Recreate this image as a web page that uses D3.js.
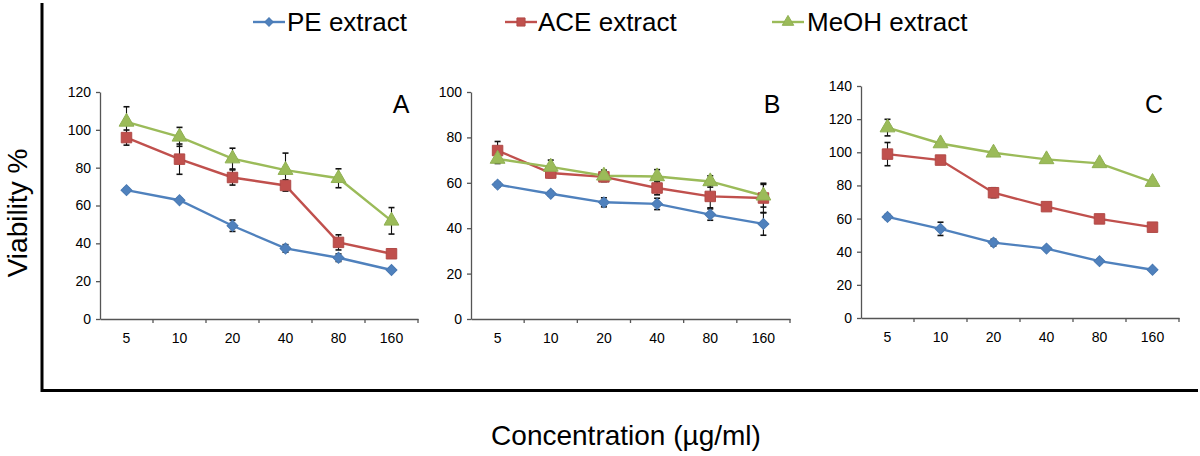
<!DOCTYPE html>
<html><head><meta charset="utf-8">
<script src="https://cdn.jsdelivr.net/npm/d3@7"></script>
<style>
html,body{margin:0;padding:0;background:#fff;}
svg{display:block;font-family:"Liberation Sans",Arial,sans-serif;}
</style></head>
<body><svg id="c" width="1200" height="456"></svg>
<script>
// ---- data ----
const concentrations = ["5","10","20","40","80","160"];
const seriesNames = ["PE extract","ACE extract","MeOH extract"];

const peA   = [68.1, 62.8, 49.3, 37.3, 32.4, 25.9];
const peAErr= [1, 1, 3, 2, 2, 1];
const aceA  = [95.9, 84.5, 74.8, 70.6, 40.5, 34.5];
const aceAErr=[4, 8, 4, 3, 4, 2];
const meohA = [104.2, 96.3, 84.8, 78.7, 74.4, 51.9];
const meohAErr=[8, 5, 5.5, 9, 5, 7];

const peB   = [59.2, 55.2, 51.4, 50.7, 46.0, 41.9];
const peBErr= [1, 1, 2, 2.5, 2.5, 5];
const aceB  = [74.2, 64.3, 62.6, 57.7, 54.0, 53.3];
const aceBErr=[4, 2, 2, 3, 5, 6.5];
const meohB = [70.5, 67.0, 63.1, 62.8, 60.6, 54.3];
const meohBErr=[2, 3, 2.5, 3, 2.5, 5];

const peC   = [61.0, 53.8, 45.5, 41.9, 34.3, 29.1];
const peCErr= [1.5, 4, 2, 1, 1, 1];
const aceC  = [98.9, 95.3, 75.6, 67.2, 59.8, 54.8];
const aceCErr=[7, 2, 3, 2, 2, 2.5];
const meohC = [114.9, 105.3, 99.7, 95.7, 93.3, 82.0];
const meohCErr=[5, 1, 1, 1, 1, 1];

const yTicksA = [0,20,40,60,80,100,120];
const yTicksB = [0,20,40,60,80,100];
const yTicksC = [0,20,40,60,80,100,120,140];
const panelLabels = ["A","B","C"];

// ---- styling / layout ----
const colors = ["#4F81BD","#C0504D","#9BBB59"];
const markerStroke = ["#4a7ab3","#b04a47","#8fb052"];
const shapes = [d3.symbolSquare, d3.symbolSquare, d3.symbolTriangle];
const shapeRot = [45, 0, 0];
const shapeSize = [60, 110, 95];

const panels = [
  {label:panelLabels[0], x0:100, x1:418, yTop:92, yBot:319, max:120, ticks:yTicksA,
   series:[[peA,peAErr],[aceA,aceAErr],[meohA,meohAErr]], lx:401},
  {label:panelLabels[1], x0:471, x1:790, yTop:92, yBot:319, max:100, ticks:yTicksB,
   series:[[peB,peBErr],[aceB,aceBErr],[meohB,meohBErr]], lx:772},
  {label:panelLabels[2], x0:861, x1:1179, yTop:86, yBot:318, max:140, ticks:yTicksC,
   series:[[peC,peCErr],[aceC,aceCErr],[meohC,meohCErr]], lx:1154}
];

const svg = d3.select("#c");

// outer frame
svg.append("line").attr("x1",42).attr("x2",42).attr("y1",3).attr("y2",392)
  .attr("stroke","#000").attr("stroke-width",3);
svg.append("line").attr("x1",41).attr("x2",1198).attr("y1",390.5).attr("y2",390.5)
  .attr("stroke","#000").attr("stroke-width",3);

panels.forEach(p => {
  const g = svg.append("g");
  const x = d3.scaleBand().domain(concentrations).range([p.x0,p.x1]);
  const y = d3.scaleLinear().domain([0,p.max]).range([p.yBot,p.yTop]);

  // y axis
  const ya = g.append("g").attr("transform",`translate(${p.x0},0)`)
    .call(d3.axisLeft(y).tickValues(p.ticks).tickSize(4).tickSizeOuter(0).tickPadding(5));
  ya.select(".domain").attr("stroke","#555").attr("stroke-width",1.3);
  ya.selectAll(".tick line").attr("stroke","#555").attr("stroke-width",1.3);
  ya.selectAll("text").attr("font-size",14).attr("fill","#000")
    .attr("font-family","'Liberation Sans',Arial,sans-serif");

  // x axis
  const xa = g.append("g").attr("transform",`translate(0,${p.yBot})`)
    .call(d3.axisBottom(x).tickSize(0).tickPadding(14).tickSizeOuter(0));
  xa.select(".domain").attr("stroke","#555").attr("stroke-width",1.3);
  xa.selectAll("text").attr("font-size",14).attr("fill","#000")
    .attr("font-family","'Liberation Sans',Arial,sans-serif");
  const bounds = concentrations.map(c => x(c) + x.bandwidth());
  xa.selectAll("line.bt").data(bounds).join("line").attr("class","bt")
    .attr("x1",d=>d).attr("x2",d=>d).attr("y1",0).attr("y2",4)
    .attr("stroke","#555").attr("stroke-width",1.3);

  const cx = c => x(c) + x.bandwidth()/2;

  p.series.forEach(([vals,errs],si) => {
    const pts = vals.map((v,i)=>({c:concentrations[i],v,e:errs[i]}));
    g.append("path").datum(pts)
      .attr("fill","none").attr("stroke",colors[si]).attr("stroke-width",2.4)
      .attr("d", d3.line().x(d=>cx(d.c)).y(d=>y(d.v)));
  });
  // error bars
  p.series.forEach(([vals,errs],si) => {
    const pts = vals.map((v,i)=>({c:concentrations[i],v,e:errs[i]}));
    const eg = g.append("g").attr("stroke","#111").attr("stroke-width",1.1);
    eg.selectAll("line.v").data(pts).join("line").attr("class","v")
      .attr("x1",d=>cx(d.c)).attr("x2",d=>cx(d.c))
      .attr("y1",d=>y(d.v-d.e)).attr("y2",d=>y(d.v+d.e));
    eg.selectAll("line.t").data(pts).join("line").attr("class","t")
      .attr("x1",d=>cx(d.c)-3).attr("x2",d=>cx(d.c)+3)
      .attr("y1",d=>y(d.v+d.e)).attr("y2",d=>y(d.v+d.e)).attr("stroke-width",1.6);
    eg.selectAll("line.b").data(pts).join("line").attr("class","b")
      .attr("x1",d=>cx(d.c)-3).attr("x2",d=>cx(d.c)+3)
      .attr("y1",d=>y(d.v-d.e)).attr("y2",d=>y(d.v-d.e)).attr("stroke-width",1.6);
  });
  p.series.forEach(([vals,errs],si) => {
    const pts = vals.map((v,i)=>({c:concentrations[i],v,e:errs[i]}));
    g.selectAll(null).data(pts).join("path")
      .attr("transform",d=>`translate(${cx(d.c)},${y(d.v)}) rotate(${shapeRot[si]})`)
      .attr("d", d3.symbol().type(shapes[si]).size(shapeSize[si]))
      .attr("fill",colors[si]).attr("stroke",markerStroke[si]).attr("stroke-width",1);
  });

  g.append("text").attr("x",p.lx).attr("y",113).attr("text-anchor","middle")
    .attr("font-size",25).attr("fill","#000").text(p.label);
});

// legend
const legendPos = [{lx:253, tx:287},{lx:505, tx:538},{lx:772, tx:807}];
seriesNames.forEach((name,i) => {
  const lp = legendPos[i];
  const lg = svg.append("g");
  lg.append("line").attr("x1",lp.lx).attr("x2",lp.lx+32).attr("y1",22).attr("y2",22)
    .attr("stroke",colors[i]).attr("stroke-width",2.4);
  lg.append("path").attr("transform",`translate(${lp.lx+16},22) rotate(${shapeRot[i]})`)
    .attr("d",d3.symbol().type(shapes[i]).size(shapeSize[i]*0.6))
    .attr("fill",colors[i]).attr("stroke",markerStroke[i]);
  lg.append("text").attr("x",lp.tx).attr("y",31).attr("font-size",26)
    .attr("fill","#000").text(name);
});

// axis titles
svg.append("text").attr("transform","translate(27,213) rotate(-90)")
  .attr("text-anchor","middle").attr("font-size",28).attr("fill","#000").text("Viability %");
svg.append("text").attr("x",626).attr("y",445).attr("text-anchor","middle")
  .attr("font-size",28).attr("fill","#000").text("Concentration (µg/ml)");
</script></body></html>
